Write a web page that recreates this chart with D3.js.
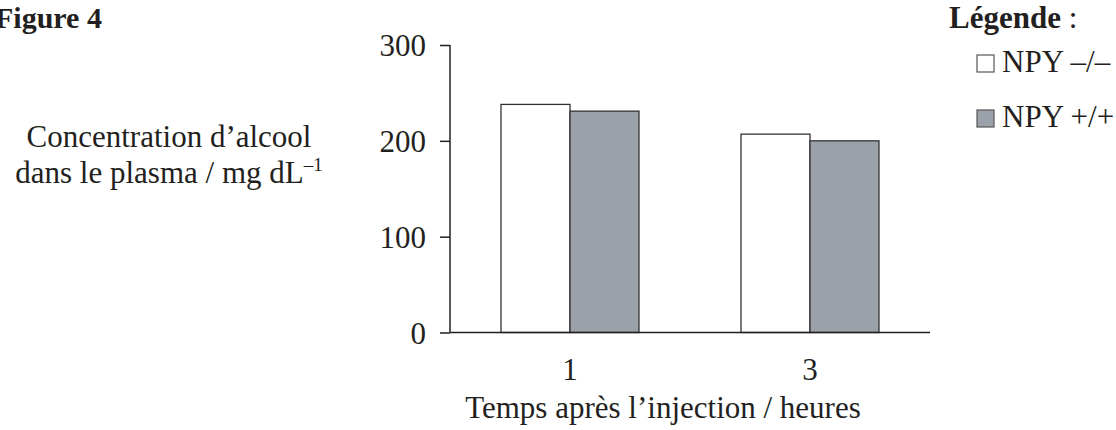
<!DOCTYPE html>
<html><head><meta charset="utf-8">
<script src="https://cdn.jsdelivr.net/npm/d3@7"></script>
<style>body{margin:0;background:#fff;} svg{display:block;} text{font-family:"Liberation Serif","Times New Roman",serif;fill:#231f20;}</style>
</head><body>
<script>
const categories = ["1", "3"];
const seriesNames = ["NPY \u2013/\u2013", "NPY +/+"];
const npyKO = [238, 207];
const npyWT = [231, 200];
const yTicks = [0, 100, 200, 300];
const colors = ["#ffffff", "#9ba1a8"];

const W = 1116, H = 430;
const svg = d3.select("body").append("svg").attr("width", W).attr("height", H);
const ink = "#231f20";
const fs = 31;

const x = d3.scaleBand().domain(categories).range([450, 930]).paddingInner(0.425).paddingOuter(0.2125);
const xs = d3.scaleBand().domain([0, 1]).range([0, x.bandwidth()]);
const y = d3.scaleLinear().domain([0, 300]).range([332.5, 45]);

const data = categories.map((c, i) => ({cat: c, vals: [npyKO[i], npyWT[i]]}));

// bars
const g = svg.append("g");
data.forEach(d => {
  d.vals.forEach((v, j) => {
    g.append("rect")
      .attr("x", x(d.cat) + xs(j))
      .attr("y", y(v))
      .attr("width", xs.bandwidth())
      .attr("height", y(0) - y(v))
      .attr("fill", colors[j])
      .attr("stroke", "#333")
      .attr("stroke-width", 1.3);
  });
});

// y axis
const yAxis = d3.axisLeft(y).tickValues(yTicks).tickSize(10).tickPadding(14);
const ya = svg.append("g").attr("transform", "translate(450,0)").call(yAxis);
ya.select(".domain").attr("stroke", ink).attr("stroke-width", 1.5).attr("d", `M0,${y(300)}V${y(0)}`);
ya.selectAll(".tick line").attr("stroke", ink).attr("stroke-width", 1.5);
ya.selectAll(".tick text").style("font-size", fs + "px").attr("font-family", null).attr("dy", "0.35em");

// x axis
const xAxis = d3.axisBottom(x).tickSize(0).tickPadding(40);
const xa = svg.append("g").attr("transform", `translate(0,${y(0)})`).call(xAxis);
xa.select(".domain").attr("stroke", ink).attr("stroke-width", 1.5).attr("d", `M450,0H930`);
xa.selectAll(".tick text").style("font-size", fs + "px").attr("font-family", null).attr("dy", "0.25em");

// x title
svg.append("text").attr("x", 663).attr("y", 418).attr("text-anchor", "middle")
  .style("font-size", fs + "px").text("Temps après l\u2019injection / heures");

// y title
const yt = svg.append("text").attr("text-anchor", "middle").style("font-size", fs + "px");
yt.append("tspan").attr("x", 169).attr("y", 147).text("Concentration d\u2019alcool");
const l2 = yt.append("tspan").attr("x", 169).attr("y", 183);
l2.append("tspan").text("dans le plasma / mg dL");
l2.append("tspan").attr("dy", -12).style("font-size", "19px").text("\u20131");

// figure title
svg.append("text").attr("x", -5).attr("y", 28).style("font-size", "30px").style("font-weight", "bold").text("Figure 4");

// legend
const lt = svg.append("text").attr("x", 949).attr("y", 28).style("font-size", fs + "px");
lt.append("tspan").style("font-weight", "bold").text("Légende");
lt.append("tspan").text(" :");

const legY = [55, 110];
seriesNames.forEach((s, j) => {
  svg.append("rect").attr("x", 977).attr("y", legY[j]).attr("width", 17).attr("height", 17)
    .attr("fill", colors[j]).attr("stroke", "#555").attr("stroke-width", 1.2);
  svg.append("text").attr("x", 1002).attr("y", legY[j] + 17).style("font-size", fs + "px").text(s);
});
</script>
</body></html>
